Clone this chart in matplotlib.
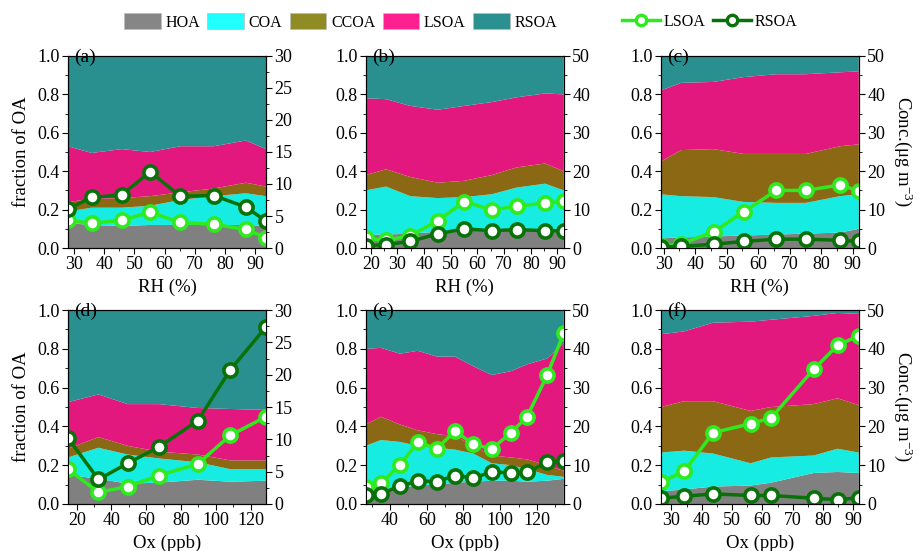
import numpy as np
import matplotlib
matplotlib.use('Agg')
import matplotlib.pyplot as plt
from matplotlib.patches import Patch
from matplotlib.lines import Line2D
from matplotlib.ticker import MultipleLocator

plt.rcParams['font.family'] = ['Liberation Serif', 'DejaVu Serif']
plt.rcParams['mathtext.fontset'] = 'custom'
plt.rcParams['mathtext.rm'] = 'Liberation Serif'
plt.rcParams['mathtext.it'] = 'Liberation Serif:italic'

species = ['HOA', 'COA', 'CCOA', 'LSOA', 'RSOA']

# (a) RH, first group
a_x = [28.0, 35.8, 45.8, 55.2, 65.2, 76.3, 86.9, 93.6]
a_hoa = [0.13, 0.12, 0.115, 0.12, 0.12, 0.12, 0.12, 0.115]
a_coa = [0.06, 0.09, 0.095, 0.10, 0.13, 0.15, 0.165, 0.155]
a_ccoa = [0.05, 0.045, 0.05, 0.05, 0.04, 0.04, 0.055, 0.05]
a_lsoa = [0.29, 0.24, 0.255, 0.23, 0.24, 0.22, 0.22, 0.195]
a_rsoa = [0.47, 0.505, 0.485, 0.50, 0.47, 0.47, 0.44, 0.485]
a_lsoa_conc = [4.3, 3.9, 4.3, 5.6, 4.0, 3.7, 2.9, 1.6]
a_rsoa_conc = [6.1, 7.9, 8.3, 11.9, 8.1, 8.2, 6.4, 4.2]

# (b) RH
b_x = [18.1, 25.7, 34.8, 45.1, 55.1, 65.4, 74.8, 85.4, 92.4]
b_hoa = [0.07, 0.07, 0.075, 0.085, 0.09, 0.09, 0.09, 0.09, 0.09]
b_coa = [0.23, 0.25, 0.195, 0.175, 0.175, 0.19, 0.225, 0.245, 0.21]
b_ccoa = [0.08, 0.09, 0.10, 0.08, 0.085, 0.10, 0.105, 0.105, 0.10]
b_lsoa = [0.40, 0.365, 0.37, 0.38, 0.39, 0.38, 0.365, 0.365, 0.40]
b_rsoa = [0.22, 0.225, 0.26, 0.28, 0.26, 0.24, 0.215, 0.195, 0.20]
b_lsoa_conc = [2.5, 2.0, 3.2, 7.1, 12.1, 9.9, 10.9, 11.7, 12.2]
b_rsoa_conc = [0.6, 0.9, 1.7, 3.7, 5.0, 4.5, 4.8, 4.5, 4.5]

# (c) RH
c_x = [29.1, 35.6, 45.9, 55.4, 65.8, 75.2, 86.0, 92.0]
c_hoa = [0.05, 0.055, 0.06, 0.065, 0.07, 0.075, 0.08, 0.10]
c_coa = [0.23, 0.215, 0.205, 0.175, 0.165, 0.16, 0.19, 0.18]
c_ccoa = [0.17, 0.24, 0.25, 0.25, 0.255, 0.255, 0.26, 0.26]
c_lsoa = [0.37, 0.35, 0.35, 0.40, 0.415, 0.415, 0.385, 0.38]
c_rsoa = [0.18, 0.14, 0.135, 0.11, 0.095, 0.095, 0.085, 0.08]
c_lsoa_conc = [0.4, 1.1, 4.2, 9.4, 15.0, 15.0, 16.4, 14.9]
c_rsoa_conc = [0.3, 0.4, 1.0, 1.7, 2.3, 2.3, 2.0, 1.7]

# (d) Ox
d_x = [15.0, 32.5, 49.3, 67.2, 89.7, 108.2, 128.9]
d_hoa = [0.15, 0.13, 0.105, 0.11, 0.125, 0.115, 0.12]
d_coa = [0.09, 0.16, 0.15, 0.125, 0.09, 0.065, 0.06]
d_ccoa = [0.045, 0.055, 0.045, 0.035, 0.04, 0.045, 0.045]
d_lsoa = [0.24, 0.22, 0.215, 0.245, 0.24, 0.265, 0.26]
d_rsoa = [0.475, 0.435, 0.485, 0.485, 0.505, 0.51, 0.515]
d_lsoa_conc = [5.4, 1.8, 2.7, 4.4, 6.2, 10.6, 13.5]
d_rsoa_conc = [10.2, 3.8, 6.3, 8.8, 12.9, 20.7, 27.4]

# (e) Ox
e_x = [26.8, 35.1, 45.4, 55.1, 65.6, 75.4, 85.4, 95.4, 105.9, 114.6, 125.5, 134.6]
e_hoa = [0.065, 0.075, 0.085, 0.095, 0.10, 0.11, 0.115, 0.12, 0.12, 0.115, 0.12, 0.13]
e_coa = [0.235, 0.255, 0.235, 0.205, 0.19, 0.17, 0.145, 0.09, 0.08, 0.065, 0.03, 0.01]
e_ccoa = [0.11, 0.12, 0.09, 0.08, 0.07, 0.07, 0.04, 0.04, 0.04, 0.05, 0.05, 0.03]
e_lsoa = [0.39, 0.355, 0.365, 0.41, 0.40, 0.41, 0.41, 0.415, 0.445, 0.49, 0.55, 0.66]
e_rsoa = [0.20, 0.195, 0.225, 0.21, 0.24, 0.24, 0.29, 0.335, 0.315, 0.28, 0.25, 0.17]
e_lsoa_conc = [4.5, 5.3, 10.1, 15.9, 14.3, 18.8, 15.4, 14.2, 18.4, 22.5, 33.2, 44.1]
e_rsoa_conc = [2.3, 2.7, 4.6, 5.9, 5.8, 7.3, 6.8, 8.2, 8.1, 8.2, 10.7, 11.1]

# (f) Ox
f_x = [26.5, 34.2, 43.8, 56.1, 62.9, 76.9, 84.8, 91.8]
f_hoa = [0.065, 0.075, 0.09, 0.095, 0.11, 0.16, 0.165, 0.16]
f_coa = [0.20, 0.20, 0.17, 0.115, 0.13, 0.09, 0.12, 0.105]
f_ccoa = [0.235, 0.255, 0.27, 0.27, 0.26, 0.265, 0.26, 0.245]
f_lsoa = [0.375, 0.36, 0.405, 0.46, 0.45, 0.455, 0.44, 0.47]
f_rsoa = [0.125, 0.11, 0.065, 0.06, 0.05, 0.03, 0.015, 0.02]
f_lsoa_conc = [5.6, 8.4, 18.4, 20.7, 22.2, 34.7, 40.9, 43.4]
f_rsoa_conc = [1.5, 2.0, 2.6, 2.2, 2.2, 1.5, 1.1, 1.6]

fill_colors = ['#808080', '#16ECE2', '#8B6914', '#E2187F', '#2A8F8F']
legend_colors = ['#868686', '#22FFFF', '#8F8C25', '#FF2090', '#2A9090']
light_green = '#2EEA1E'
dark_green = '#087208'

panels = [
    ('(a)', a_x, [a_hoa, a_coa, a_ccoa, a_lsoa, a_rsoa], a_lsoa_conc, a_rsoa_conc, 30, 5, 10),
    ('(b)', b_x, [b_hoa, b_coa, b_ccoa, b_lsoa, b_rsoa], b_lsoa_conc, b_rsoa_conc, 50, 10, 10),
    ('(c)', c_x, [c_hoa, c_coa, c_ccoa, c_lsoa, c_rsoa], c_lsoa_conc, c_rsoa_conc, 50, 10, 10),
    ('(d)', d_x, [d_hoa, d_coa, d_ccoa, d_lsoa, d_rsoa], d_lsoa_conc, d_rsoa_conc, 30, 5, 20),
    ('(e)', e_x, [e_hoa, e_coa, e_ccoa, e_lsoa, e_rsoa], e_lsoa_conc, e_rsoa_conc, 50, 10, 20),
    ('(f)', f_x, [f_hoa, f_coa, f_ccoa, f_lsoa, f_rsoa], f_lsoa_conc, f_rsoa_conc, 50, 10, 10),
]

fig = plt.figure(figsize=(9.19, 5.51), dpi=100)
lefts = [0.074, 0.398, 0.719]
bottoms = [0.5499, 0.0853]
heights = [0.3485, 0.352]
w = 0.2155

for i, (lab, x, fracs, lc, rc, cmax, cstep, xstep) in enumerate(panels):
    row, col = i // 3, i % 3
    ax = fig.add_axes([lefts[col], bottoms[row], w, heights[row]])
    ax.stackplot(x, *fracs, colors=fill_colors, linewidth=0)
    ax.set_xlim(x[0], x[-1])
    ax.set_ylim(0, 1)
    ax.yaxis.set_major_locator(MultipleLocator(0.2))
    ax.yaxis.set_minor_locator(MultipleLocator(0.1))
    ax.xaxis.set_major_locator(MultipleLocator(xstep))
    ax.xaxis.set_minor_locator(MultipleLocator(xstep / 2))
    ax.tick_params(which='major', direction='out', length=4, labelsize=13, pad=2)
    ax.tick_params(which='minor', direction='out', length=2)

    ax2 = ax.twinx()
    ax2.plot(x, lc, '-o', color=light_green, mfc='white', mec=light_green, ms=9.5, mew=2.6, lw=2.5)
    ax2.plot(x, rc, '-o', color=dark_green, mfc='white', mec=dark_green, ms=9.5, mew=2.6, lw=2.5)
    ax2.set_ylim(0, cmax)
    ax2.yaxis.set_major_locator(MultipleLocator(cstep))
    ax2.yaxis.set_minor_locator(MultipleLocator(cstep / 2))
    ax2.tick_params(which='major', direction='out', length=4, labelsize=13, pad=2)
    ax2.tick_params(which='minor', direction='out', length=2)
    ax2.text(0.03, 1.04, lab, transform=ax2.transAxes, va='top', ha='left', fontsize=14)

    ax.set_xlabel('RH (%)' if row == 0 else 'Ox (ppb)', fontsize=13.5, labelpad=4)
    if col == 0:
        ax.set_ylabel('fraction of OA', fontsize=13.5, labelpad=5)
    if col == 2:
        ax2.set_ylabel('Conc.(μg m$^{-3}$)', fontsize=13.5, rotation=270, va='bottom', labelpad=5)

# legends on top
patch_handles = [Patch(facecolor=c, edgecolor='#bbbbbb', lw=0.5, label=s) for c, s in zip(legend_colors, species)]
fig.legend(handles=patch_handles, loc='center', bbox_to_anchor=(0.3705, 0.960), ncol=5, frameon=False,
           fontsize=11.5, handlelength=2.3, handleheight=1.1, handletextpad=0.3, columnspacing=0.45)

line_handles = [
    Line2D([], [], color=light_green, marker='o', mfc='white', mec=light_green, ms=7.5, mew=2.4, lw=2.5, label='LSOA'),
    Line2D([], [], color=dark_green, marker='o', mfc='white', mec=dark_green, ms=7.5, mew=2.4, lw=2.5, label='RSOA'),
]
fig.legend(handles=line_handles, loc='center', bbox_to_anchor=(0.772, 0.960), ncol=2, frameon=False,
           fontsize=11.5, handlelength=2.4, handletextpad=0.2, columnspacing=0.5)

plt.savefig('out.png', dpi=100)
